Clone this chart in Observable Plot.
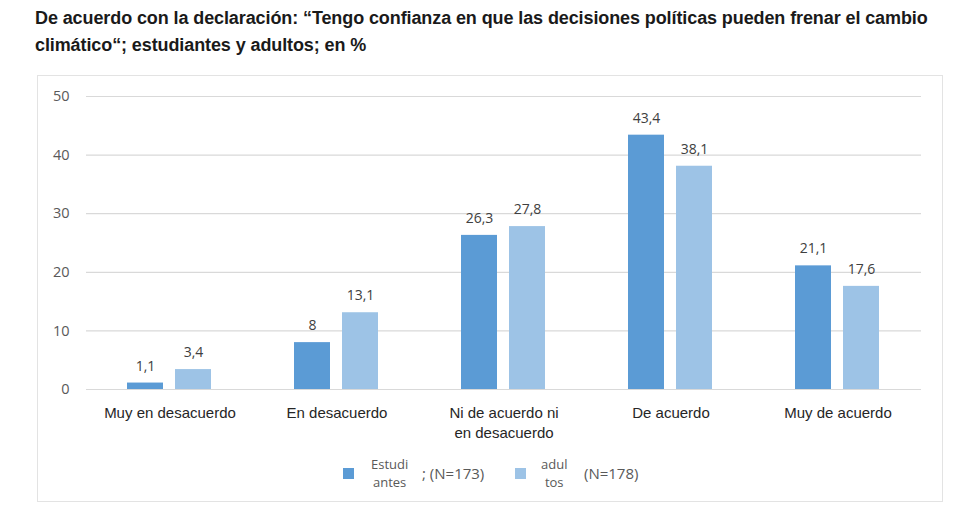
<!DOCTYPE html>
<html>
<head>
<meta charset="utf-8">
<script src="https://cdn.jsdelivr.net/npm/d3@7"></script>
<script src="https://cdn.jsdelivr.net/npm/@observablehq/plot@0.6"></script>
<style>
  html, body { margin: 0; padding: 0; background: #fff; }
  #page { position: relative; width: 980px; height: 513px; overflow: hidden; }
  #title { position: absolute; left: 35px; top: 5px; width: 910px; font-family: "Liberation Sans", Arial, sans-serif; font-weight: bold; font-size: 18px; line-height: 27px; color: #1a1a1a; letter-spacing: -0.1px; }
  #box { position: absolute; left: 37px; top: 75px; width: 906px; height: 427px; border: 1.5px solid #e3e3e3; box-sizing: border-box; }
  #chart { position: absolute; left: 0; top: 80px; }
  #legend { position: absolute; left: 0; top: 455px; width: 980px; height: 40px; font-family: "Open Sans", sans-serif; font-size: 13px; color: #595959; }
  .sw { position: absolute; width: 11px; height: 11px; }
  .lt { position: absolute; line-height: 18px; }
</style>
</head>
<body>
<div id="page">
  <div id="title">De acuerdo con la declaración: “Tengo confianza en que las decisiones políticas pueden frenar el cambio climático“; estudiantes y adultos; en %</div>
  <div id="box"></div>
  <div id="chart"></div>
  <div id="legend"></div>
</div>
<script>
const categories = ["Muy en desacuerdo", "En desacuerdo", "Ni de acuerdo ni en desacuerdo", "De acuerdo", "Muy de acuerdo"];
const categoryLabels = ["Muy en desacuerdo", "En desacuerdo", "Ni de acuerdo ni\nen desacuerdo", "De acuerdo", "Muy de acuerdo"];
const series = ["Estudiantes", "adultos"];
const estudiantes = [1.1, 8, 26.3, 43.4, 21.1];
const adultos = [3.4, 13.1, 27.8, 38.1, 17.6];
const yTicks = [0, 10, 20, 30, 40, 50];
const colors = ["#5b9bd5", "#9dc3e6"];
const legendLabels = [["Estudi", "antes"], ["adul", "tos"]];
const legendSuffix = ["; (N=173)", "(N=178)"];

const data = [];
categories.forEach((c, i) => {
  data.push({category: c, series: series[0], value: estudiantes[i]});
  data.push({category: c, series: series[1], value: adultos[i]});
});
const fmt = v => String(v).replace(".", ",");
const labelOf = new Map(categories.map((c, i) => [c, categoryLabels[i]]));

const chart = Plot.plot({
  width: 980,
  height: 360,
  marginLeft: 85,
  marginRight: 58,
  marginTop: 16,
  marginBottom: 51,
  style: {fontFamily: "'Open Sans', sans-serif", background: "transparent"},
  fx: {domain: categories, padding: 0, label: null, axis: null},
  x: {domain: series, paddingInner: 0.245, paddingOuter: 0.832, axis: null},
  y: {domain: [0, 50], axis: null},
  color: {domain: series, range: colors},
  marks: [
    Plot.ruleY(yTicks, {stroke: "#d9d9d9", strokeWidth: 1.2}),
    Plot.barY(data, {fx: "category", x: "series", y: "value", fill: "series"}),
    Plot.text(data, {fx: "category", x: "series", y: "value", text: d => fmt(d.value), dy: -17,
                     fill: "#404040", fontSize: 14}),
    Plot.axisFx({anchor: "bottom", tickSize: 0, tickPadding: 14, label: null, fontSize: 15,
                 fontFamily: "'Liberation Sans', Arial, sans-serif", fill: "#262626", lineHeight: 1.35,
                 tickFormat: c => labelOf.get(c)}),
    Plot.axisY(yTicks, {anchor: "left", tickSize: 0, tickPadding: 17, fontSize: 14.5, fill: "#595959",
                        label: null, facetAnchor: "left"})
  ]
});
document.getElementById("chart").appendChild(chart);

const legend = document.getElementById("legend");
const pos = [{sw: 343, t: 371, s: 422}, {sw: 515, t: 541, s: 584}];
series.forEach((s, i) => {
  const sw = document.createElement("div");
  sw.className = "sw"; sw.style.left = pos[i].sw + "px"; sw.style.top = "13px"; sw.style.background = colors[i];
  legend.appendChild(sw);
  const t = document.createElement("div");
  t.className = "lt"; t.style.left = pos[i].t + "px"; t.style.top = "0px"; t.style.fontSize = "13px";
  t.style.textAlign = "center";
  t.innerHTML = legendLabels[i].join("<br>");
  legend.appendChild(t);
  const su = document.createElement("div");
  su.className = "lt"; su.style.left = pos[i].s + "px"; su.style.top = "9px"; su.style.fontSize = "15px";
  su.textContent = legendSuffix[i];
  legend.appendChild(su);
});
</script>
</body>
</html>
